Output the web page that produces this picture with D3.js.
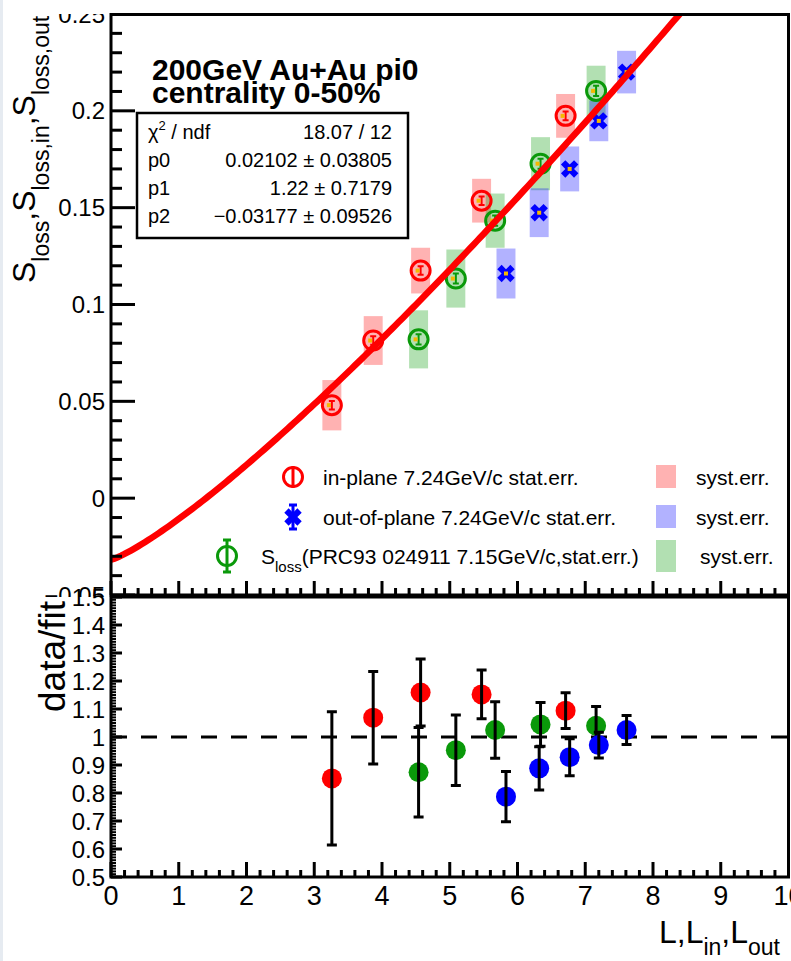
<!DOCTYPE html>
<meta charset="utf-8">
<head>
<style>
  body { margin:0; background:#fff; }
  svg { display:block; font-family:"Liberation Sans", Arial, Helvetica, sans-serif; }
</style>
<script src="https://d3js.org/d3.v7.min.js"></script>
</head>
<body>
<svg width="791" height="961"></svg>
<script>
// fit: p0 * L^p1 + p2
var fitPars = [0.02102, 1.22, -0.03177];
var statNames = ["p0", "p1", "p2"];
var statValues = ["0.02102 \u00b1 0.03805", "1.22 \u00b1 0.7179", "\u22120.03177 \u00b1 0.09526"];
var chi2Text = "18.07 / 12";

// in-plane (red)
var inL = [3.26, 3.87, 4.57, 5.47, 6.71];
var inS = [0.048, 0.0814, 0.1175, 0.1536, 0.1974];
var inStat = [0.0022, 0.0022, 0.0022, 0.0022, 0.0022];
var inSyst = [0.013, 0.0126, 0.0118, 0.0113, 0.0113];
var inRatio = [0.852, 1.069, 1.159, 1.152, 1.094];
var inRatioErr = [0.238, 0.165, 0.12, 0.087, 0.064];

// out-of-plane (blue)
var outL = [5.83, 6.32, 6.77, 7.2, 7.61];
var outS = [0.116, 0.1474, 0.170, 0.1948, 0.220];
var outStat = [0.002, 0.002, 0.002, 0.002, 0.002];
var outSyst = [0.0129, 0.0126, 0.0116, 0.0105, 0.011];
var outRatio = [0.787, 0.888, 0.928, 0.971, 1.025];
var outRatioErr = [0.09, 0.077, 0.066, 0.046, 0.052];

// S_loss PRC93 (green)
var lossL = [4.54, 5.09, 5.67, 6.34, 7.16];
var lossS = [0.082, 0.1134, 0.1433, 0.1727, 0.2103];
var lossStat = [0.0026, 0.0026, 0.0026, 0.0026, 0.0026];
var lossSyst = [0.015, 0.015, 0.014, 0.0137, 0.013];
var lossRatio = [0.874, 0.953, 1.025, 1.045, 1.04];
var lossRatioErr = [0.16, 0.126, 0.101, 0.078, 0.069];

var xTickLabels = ["0","1","2","3","4","5","6","7","8","9","10"];
var yTopTickLabels = ["\u22120.05","0","0.05","0.1","0.15","0.2","0.25"];
var yLowTickLabels = ["0.5","0.6","0.7","0.8","0.9","1","1.1","1.2","1.3","1.4","1.5"];

var RED = "#ff0000", BLUE = "#0000ff", GREEN = "#0a990a";

var svg = d3.select("svg");
var x = d3.scaleLinear().domain([0, 10]).range([111, 788.5]);
var yTop = d3.scaleLinear().domain([-0.05, 0.25]).range([595, 14]);
var yLow = d3.scaleLinear().domain([0.5, 1.5]).range([877, 597]);

var defs = svg.append("defs");
defs.append("clipPath").attr("id", "topFrame").append("rect")
  .attr("x", 111).attr("y", 14).attr("width", 678).attr("height", 581);
defs.append("clipPath").attr("id", "topPad").append("rect")
  .attr("x", 0).attr("y", 14).attr("width", 791).attr("height", 583);
defs.append("clipPath").attr("id", "lowPad").append("rect")
  .attr("x", 0).attr("y", 589).attr("width", 791).attr("height", 372);

svg.append("rect").attr("x", 0).attr("y", 0).attr("width", 3).attr("height", 961).attr("fill", "#e6ebf1");

// helper for text with sub/superscripts
function rich(t, parts) {
  var cur = 0;
  parts.forEach(function (p) {
    var target = p.dy || 0;
    t.append("tspan").attr("font-size", p.s).attr("dy", target - cur).text(p.t);
    cur = target;
  });
  return t;
}

// ---------- top panel ----------
var gTop = svg.append("g");
var topData = gTop.append("g").attr("clip-path", "url(#topFrame)");
var hw = 0.14;

function systBoxes(L, S, E, color) {
  topData.append("g").selectAll("rect").data(L).enter().append("rect")
    .attr("x", function (d) { return x(d - hw); })
    .attr("width", function (d) { return x(d + hw) - x(d - hw); })
    .attr("y", function (d, i) { return yTop(S[i] + E[i]); })
    .attr("height", function (d, i) { return yTop(S[i] - E[i]) - yTop(S[i] + E[i]); })
    .attr("fill", color).attr("fill-opacity", 0.3);
}
systBoxes(inL, inS, inSyst, RED);
systBoxes(lossL, lossS, lossSyst, "#009900");
systBoxes(outL, outS, outSyst, BLUE);

function statBars(g, L, S, E, color) {
  L.forEach(function (d, i) {
    var cx = x(d), y1 = yTop(S[i] + E[i]), y2 = yTop(S[i] - E[i]);
    g.append("path").attr("d", "M" + cx + "," + y1 + "V" + y2 + "M" + (cx - 3) + "," + y1 + "H" + (cx + 3) + "M" + (cx - 3) + "," + y2 + "H" + (cx + 3))
      .attr("stroke", color).attr("stroke-width", 2).attr("fill", "none");
    g.append("rect").attr("x", cx - 5).attr("y", yTop(S[i]) - 2).attr("width", 4).attr("height", 4).attr("fill", "#f5b800");
  });
}

function openCircles(L, S, E, color) {
  var g = topData.append("g");
  statBars(g, L, S, E, color);
  g.selectAll("circle").data(L).enter().append("circle")
    .attr("cx", function (d) { return x(d); })
    .attr("cy", function (d, i) { return yTop(S[i]); })
    .attr("r", 9.5).attr("fill", "none").attr("stroke", color).attr("stroke-width", 3);
}
openCircles(inL, inS, inStat, RED);
openCircles(lossL, lossS, lossStat, GREEN);

var xSym = d3.symbol().type(d3.symbolCross).size(190);
var gOut = topData.append("g");
gOut.selectAll("path").data(outL).enter().append("path")
  .attr("d", xSym)
  .attr("transform", function (d, i) { return "translate(" + x(d) + "," + yTop(outS[i]) + ") rotate(45)"; })
  .attr("fill", BLUE);
outL.forEach(function (d, i) {
  gOut.append("rect").attr("x", x(d) - 2).attr("y", yTop(outS[i]) - 2).attr("width", 4).attr("height", 4).attr("fill", "#f5b800");
});

// fit curve
var fitPts = d3.range(0, 10.001, 0.05).map(function (L) {
  return [L, fitPars[0] * Math.pow(L, fitPars[1]) + fitPars[2]];
});
topData.append("path").datum(fitPts)
  .attr("d", d3.line().x(function (d) { return x(d[0]); }).y(function (d) { return yTop(d[1]); }))
  .attr("fill", "none").attr("stroke", RED).attr("stroke-width", 6.5);

// top axes ticks
var tTicks = gTop.append("g").attr("stroke", "#000").attr("stroke-width", 3);
yTop.ticks(30).forEach(function (v) {
  var major = Math.abs(Math.round(v * 20) - v * 20) < 1e-6;
  tTicks.append("line").attr("x1", 111).attr("x2", 111 + (major ? 24 : 11)).attr("y1", yTop(v)).attr("y2", yTop(v));
});
x.ticks(50).forEach(function (v) {
  var major = Math.abs(Math.round(v) - v) < 1e-6;
  tTicks.append("line").attr("x1", x(v)).attr("x2", x(v)).attr("y1", 595).attr("y2", 595 - (major ? 14 : 7));
});

// top tick labels
var topLab = svg.append("g").attr("clip-path", "url(#topPad)");
topLab.selectAll("text").data(yTop.ticks(6)).enter().append("text")
  .attr("x", 105).attr("y", function (d) { return yTop(d) + 8.5; })
  .attr("text-anchor", "end").attr("font-size", 24)
  .text(function (d, i) { return yTopTickLabels[i]; });

// top y title
rich(topLab.append("text").attr("transform", "translate(35,283) rotate(-90)"), [
  { t: "S", s: 32 }, { t: "loss", s: 23, dy: 14 }, { t: ",S", s: 32 },
  { t: "loss,in", s: 23, dy: 14 }, { t: ",S", s: 32 }, { t: "loss,out", s: 23, dy: 14 }
]);

// title
gTop.append("text").attr("x", 152).attr("y", 80).attr("font-size", 30).attr("font-weight", "bold").text("200GeV Au+Au pi0");
gTop.append("text").attr("x", 152).attr("y", 103).attr("font-size", 30).attr("font-weight", "bold").text("centrality 0-50%");

// stat box
var sb = gTop.append("g");
sb.append("rect").attr("x", 137).attr("y", 113).attr("width", 271).attr("height", 125)
  .attr("fill", "#fff").attr("stroke", "#000").attr("stroke-width", 2.5);
rich(sb.append("text").attr("x", 148).attr("y", 139), [
  { t: "\u03c7", s: 20 }, { t: "2", s: 13, dy: -9 }, { t: " / ndf", s: 20 }
]);
sb.append("text").attr("x", 392).attr("y", 139).attr("text-anchor", "end").attr("font-size", 20).text(chi2Text);
statNames.forEach(function (n, i) {
  var yy = 167 + i * 28;
  sb.append("text").attr("x", 148).attr("y", yy).attr("font-size", 20).text(n);
  sb.append("text").attr("x", 392).attr("y", yy).attr("text-anchor", "end").attr("font-size", 20).text(statValues[i]);
});

// legend
var lg = gTop.append("g");
function capBar(g, cx, cy, h, color) {
  g.append("path").attr("d", "M" + cx + "," + (cy - h) + "V" + (cy + h) + "M" + (cx - 4) + "," + (cy - h) + "H" + (cx + 4) + "M" + (cx - 4) + "," + (cy + h) + "H" + (cx + 4))
    .attr("stroke", color).attr("stroke-width", 3).attr("fill", "none");
}
lg.append("circle").attr("cx", 293).attr("cy", 477).attr("r", 9.5).attr("fill", "none").attr("stroke", RED).attr("stroke-width", 3);
lg.append("line").attr("x1", 293).attr("x2", 293).attr("y1", 466).attr("y2", 488).attr("stroke", RED).attr("stroke-width", 3);
lg.append("path").attr("d", xSym).attr("transform", "translate(293,517) rotate(45)").attr("fill", BLUE);
capBar(lg, 293, 517, 12, BLUE);
lg.append("circle").attr("cx", 227).attr("cy", 556).attr("r", 9.5).attr("fill", "none").attr("stroke", GREEN).attr("stroke-width", 3);
capBar(lg, 227, 556, 16, GREEN);

lg.append("text").attr("x", 323).attr("y", 484.5).attr("font-size", 21).text("in-plane 7.24GeV/c stat.err.");
lg.append("text").attr("x", 323).attr("y", 524.5).attr("font-size", 21).text("out-of-plane 7.24GeV/c stat.err.");
rich(lg.append("text").attr("x", 261).attr("y", 563.5), [
  { t: "S", s: 21 }, { t: "loss", s: 15, dy: 8 }, { t: "(PRC93 024911 7.15GeV/c,stat.err.)", s: 21 }
]);
[[RED, 465, 488], [BLUE, 505, 528], ["#009900", 540, 572]].forEach(function (b, i) {
  lg.append("rect").attr("x", 656).attr("y", b[1]).attr("width", 20).attr("height", b[2] - b[1])
    .attr("fill", b[0]).attr("fill-opacity", 0.3);
  lg.append("text").attr("x", i == 2 ? 700 : 696).attr("y", [484.5, 524.5, 563.5][i]).attr("font-size", 21).text("syst.err.");
});

// mask above pad and frame
svg.append("rect").attr("x", 3).attr("y", 0).attr("width", 788).attr("height", 13).attr("fill", "#fff");
svg.append("rect").attr("x", 111).attr("y", 14.5).attr("width", 677.5).attr("height", 580.5)
  .attr("fill", "none").attr("stroke", "#000").attr("stroke-width", 3);

// ---------- lower panel ----------
var low = svg.append("g");
low.append("line").attr("x1", 111).attr("x2", 788.5).attr("y1", yLow(1)).attr("y2", yLow(1))
  .attr("stroke", "#000").attr("stroke-width", 3).attr("stroke-dasharray", "16,14");

function ratioPoints(L, R, E, color) {
  var g = low.append("g");
  g.selectAll("circle").data(L).enter().append("circle")
    .attr("cx", function (d) { return x(d); })
    .attr("cy", function (d, i) { return yLow(R[i]); })
    .attr("r", 10).attr("fill", color);
  L.forEach(function (d, i) {
    var cx = x(d), y1 = yLow(R[i] + E[i]), y2 = yLow(R[i] - E[i]);
    g.append("path").attr("d", "M" + cx + "," + y1 + "V" + y2 + "M" + (cx - 5) + "," + y1 + "H" + (cx + 5) + "M" + (cx - 5) + "," + y2 + "H" + (cx + 5))
      .attr("stroke", "#000").attr("stroke-width", 3).attr("fill", "none");
  });
}
ratioPoints(inL, inRatio, inRatioErr, RED);
ratioPoints(lossL, lossRatio, lossRatioErr, GREEN);
ratioPoints(outL, outRatio, outRatioErr, BLUE);

var lTicks = low.append("g").attr("stroke", "#000");
yLow.ticks(100).forEach(function (v) {
  var major = Math.abs(Math.round(v * 10) - v * 10) < 1e-6;
  lTicks.append("line").attr("x1", 111).attr("x2", 111 + (major ? 11 : 5)).attr("y1", yLow(v)).attr("y2", yLow(v))
    .attr("stroke-width", major ? 3 : 2);
});
x.ticks(50).forEach(function (v) {
  var major = Math.abs(Math.round(v) - v) < 1e-6;
  lTicks.append("line").attr("x1", x(v)).attr("x2", x(v)).attr("y1", 877).attr("y2", 877 - (major ? 15 : 7))
    .attr("stroke-width", 3);
});
low.append("rect").attr("x", 111).attr("y", 597).attr("width", 677.5).attr("height", 280)
  .attr("fill", "none").attr("stroke", "#000").attr("stroke-width", 3);

var lowLab = svg.append("g").attr("clip-path", "url(#lowPad)");
lowLab.selectAll("text").data(yLow.ticks(10)).enter().append("text")
  .attr("x", 105).attr("y", function (d) { return yLow(d) + 8.5; })
  .attr("text-anchor", "end").attr("font-size", 24)
  .text(function (d, i) { return yLowTickLabels[i]; });
lowLab.append("text").attr("transform", "translate(65,712) rotate(-90)")
  .attr("font-size", 37).text("data/fit");

low.selectAll("text.xl").data(x.ticks(10)).enter().append("text")
  .attr("x", function (d) { return x(d); }).attr("y", 905)
  .attr("text-anchor", "middle").attr("font-size", 27)
  .text(function (d, i) { return xTickLabels[i]; });

rich(low.append("text").attr("x", 780).attr("y", 943).attr("text-anchor", "end"), [
  { t: "L,L", s: 32 }, { t: "in", s: 23, dy: 12 }, { t: ",L", s: 32 }, { t: "out", s: 23, dy: 12 }
]);
</script>
</body>
